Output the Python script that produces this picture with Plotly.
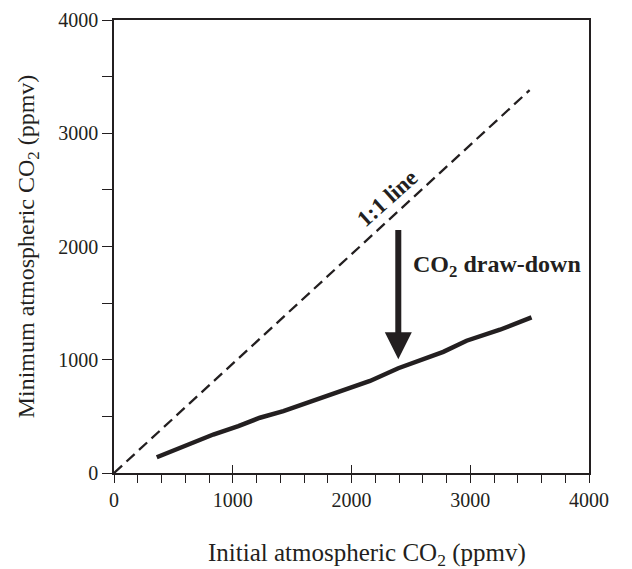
import plotly.graph_objects as go

# Data
one_to_one_x = [0, 3500]
one_to_one_y = [0, 3380]

initial_co2 = [360, 626, 836, 1047, 1229, 1426, 1651, 1900, 2156, 2394, 2600, 2773, 2969, 3250, 3516]
minimum_co2 = [139, 252, 340, 414, 488, 547, 629, 720, 813, 925, 1005, 1070, 1168, 1265, 1374]

x_ticks = [0, 1000, 2000, 3000, 4000]
y_ticks = [0, 1000, 2000, 3000, 4000]

x_title = "Initial atmospheric CO<sub>2</sub> (ppmv)"
y_title = "Minimum atmospheric CO<sub>2</sub> (ppmv)"

INK = "#231f20"
FONT = "Liberation Serif"

fig = go.Figure()
fig.add_trace(go.Scatter(x=one_to_one_x, y=one_to_one_y, mode="lines",
                         line=dict(color=INK, width=2.3, dash="11px,6px"),
                         hoverinfo="skip", showlegend=False))
fig.add_trace(go.Scatter(x=initial_co2, y=minimum_co2, mode="lines",
                         line=dict(color=INK, width=4.5),
                         showlegend=False))

# draw-down arrow
fig.add_annotation(x=2394, y=1005, ax=2394, ay=2158, xref="x", yref="y",
                   axref="x", ayref="y", text="", showarrow=True,
                   arrowhead=2, arrowwidth=6, arrowsize=0.9, arrowcolor=INK)
fig.add_annotation(x=2500, y=1830, xref="x", yref="y", xanchor="left", yanchor="middle",
                   text="<b>CO<sub>2</sub> draw-down</b>", showarrow=False,
                   font=dict(family=FONT, size=24, color=INK))
fig.add_annotation(x=2299, y=2426, xref="x", yref="y", xanchor="center", yanchor="middle",
                   text="<b>1:1 line</b>", showarrow=False, textangle=-42,
                   font=dict(family=FONT, size=23, color=INK))
# x-axis title (placed slightly right of centre, as in the reference)
fig.add_annotation(x=0.532, y=0, xref="paper", yref="paper", xanchor="center", yanchor="top",
                   yshift=-64, text=x_title, showarrow=False,
                   font=dict(family=FONT, size=25, color=INK))

fig.update_layout(
    width=632, height=569,
    margin=dict(l=106, r=51, t=12, b=104, autoexpand=False),
    paper_bgcolor="white", plot_bgcolor="white",
    font=dict(family=FONT, color=INK, size=20),
    xaxis=dict(range=[0, 4000], tickvals=x_ticks, ticks="outside", ticklen=8,
               tickwidth=1.2, tickcolor=INK, showgrid=False, zeroline=False,
               showline=True, linecolor=INK, linewidth=1.5, mirror=True, automargin=False,
               minor=dict(dtick=200, ticks="outside", ticklen=8, tickwidth=1.2, tickcolor=INK),
               tickfont=dict(size=20)),
    xaxis2=dict(range=[0, 4000], overlaying="x", matches="x", tickvals=x_ticks,
                ticks="inside", ticklen=8, tickwidth=1.2, tickcolor=INK, automargin=False,
                showticklabels=False, showgrid=False, zeroline=False, showline=False, side="bottom"),
    yaxis=dict(range=[0, 4000], tickvals=y_ticks, ticks="outside", ticklen=10,
               tickwidth=1.2, tickcolor=INK, showgrid=False, zeroline=False,
               showline=True, linecolor=INK, linewidth=1.5, mirror=True, automargin=False,
               minor=dict(dtick=500, ticks="outside", ticklen=10, tickwidth=1.2, tickcolor=INK),
               title=dict(text=y_title, font=dict(size=24), standoff=17),
               tickfont=dict(size=20)),
)
# invisible trace to activate the overlay axis
fig.add_trace(go.Scatter(x=[0], y=[0], xaxis="x2", mode="markers",
                         marker=dict(opacity=0), hoverinfo="skip", showlegend=False))

fig.write_html("out.html")
